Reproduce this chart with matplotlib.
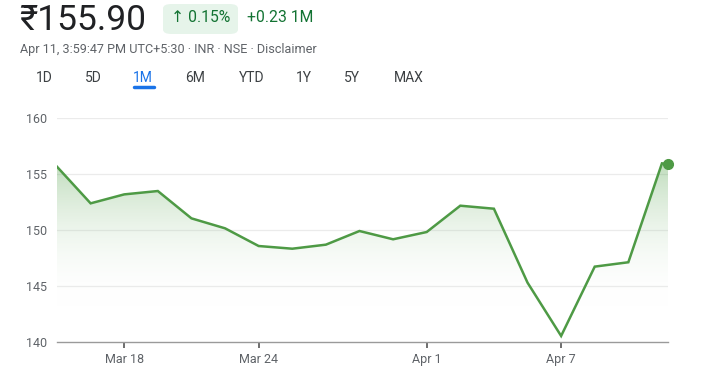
import matplotlib
matplotlib.use("Agg")
import matplotlib.pyplot as plt
import numpy as np
from matplotlib.patches import FancyBboxPatch
from matplotlib.colors import LinearSegmentedColormap

plt.rcParams['font.family'] = ['Roboto', 'DejaVu Sans']

# Data
dates = ["Mar 13", "Mar 17", "Mar 18", "Mar 19", "Mar 20", "Mar 21", "Mar 24", "Mar 25",
         "Mar 26", "Mar 27", "Mar 28", "Apr 1", "Apr 2", "Apr 3", "Apr 4", "Apr 7",
         "Apr 8", "Apr 9", "Apr 11", "Apr 11 now"]
closes = [155.65, 152.38, 153.18, 153.48, 151.04, 150.15, 148.57, 148.33,
          148.69, 149.91, 149.17, 149.82, 152.17, 151.90, 145.30, 140.54,
          146.73, 147.12, 155.95, 155.90]
tick_labels = ["Mar 18", "Mar 24", "Apr 1", "Apr 7"]
y_ticks = [140, 145, 150, 155, 160]
tabs = ["1D", "5D", "1M", "6M", "YTD", "1Y", "5Y", "MAX"]

x = np.arange(len(closes), dtype=float)
x[-1] = x[-2] + 0.18  # live point just after last close
tick_pos = [dates.index(t) for t in tick_labels]

W, H = 715, 376
fig = plt.figure(figsize=(W / 100, H / 100), dpi=100)

green = "#4e9a45"
gray_text = "#5f6368"

# Plot area in pixel coords
x0, x1 = 57, 668
ytop, ybot = 118, 342
ax = fig.add_axes([x0 / W, 1 - ybot / H, (x1 - x0) / W, (ybot - ytop) / H])
ax.set_xlim(0, x[-1])
ax.set_ylim(140, 160)

# Gradient fill under line
grad = np.linspace(0, 1, 256).reshape(-1, 1)
cmap = LinearSegmentedColormap.from_list("g", [(1, 1, 1, 0), (0.30, 0.62, 0.27, 0.36)])
yfade = 143.0
img = ax.imshow(grad, aspect="auto", cmap=cmap, origin="lower",
                extent=[0, x[-1], yfade, max(closes)], zorder=1)
verts = [(x[0], yfade)] + list(zip(x, closes)) + [(x[-1], yfade)]
poly = plt.Polygon(verts, closed=True, transform=ax.transData, facecolor="none", edgecolor="none")
ax.add_patch(poly)
img.set_clip_path(poly)

ax.plot(x, closes, color=green, lw=1.8, zorder=3, solid_joinstyle="miter")
ax.plot([x[-1]], [closes[-1]], "o", color=green, ms=7, zorder=4, clip_on=False)

for v in y_ticks[1:]:
    ax.axhline(v, color="#ebebeb", lw=0.9, zorder=0)
ax.axhline(140, color="#9a9a9a", lw=1.0, zorder=2, clip_on=False)

for s in ax.spines.values():
    s.set_visible(False)
ax.set_yticks(y_ticks)
ax.set_yticklabels([str(v) for v in y_ticks], color=gray_text, fontsize=9)
ax.tick_params(axis="y", length=0, pad=7)
ax.set_xticks(tick_pos)
ax.set_xticklabels(tick_labels, color=gray_text, fontsize=9)
ax.tick_params(axis="x", length=4, width=1.2, color="#555555", pad=4)

# Header
fig.text(19 / W, 1 - 20 / H, "₹155.90", fontsize=25.5, color="#202124", va="center", ha="left")
badge = FancyBboxPatch((163 / W, 1 - 34 / H), 75 / W, 30 / H,
                       boxstyle="round,pad=0,rounding_size=0.012",
                       transform=fig.transFigure, facecolor="#e6f4ea", edgecolor="none")
fig.add_artist(badge)
fig.text(201 / W, 1 - 18 / H, "↑ 0.15%", fontsize=11.3, color="#137333", va="center", ha="center")
fig.text(247 / W, 1 - 18 / H, "+0.23 1M", fontsize=11.3, color="#137333", va="center", ha="left")
fig.text(20 / W, 1 - 50 / H, "Apr 11, 3:59:47 PM UTC+5:30 · INR · NSE · Disclaimer",
         fontsize=9.1, color=gray_text, va="center", ha="left")

tab_x = [44, 93, 143, 195, 252, 304, 352, 409]
for t, tx in zip(tabs, tab_x):
    col = "#1a73e8" if t == "1M" else "#3c4043"
    fig.text(tx / W, 1 - 78 / H, t, fontsize=10, color=col, va="center", ha="center")
fig.add_artist(plt.Line2D([134 / W, 154 / W], [1 - 87 / H, 1 - 87 / H], color="#1a73e8",
                          lw=2.5, solid_capstyle="round", transform=fig.transFigure))

fig.savefig("out.png", dpi=100)
